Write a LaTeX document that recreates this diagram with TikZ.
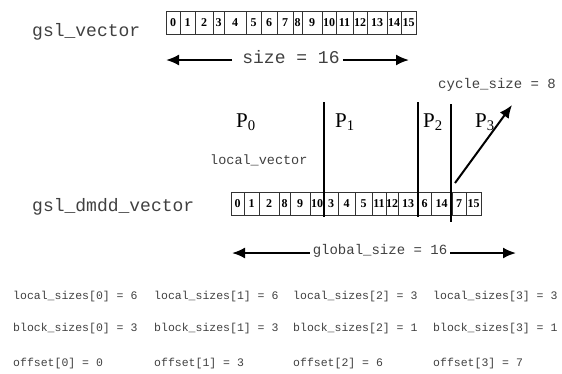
\documentclass[tikz,border=0pt]{standalone}
\usepackage{fontspec}
\setmainfont{Liberation Serif}
\newfontfamily\monofont{Liberation Mono}
\usetikzlibrary{positioning,arrows.meta}

\begin{document}
\begin{tikzpicture}[x=1pt,y=-1pt,
  cell/.style={draw=black!80,line width=0.8pt,inner sep=0pt,minimum height=23pt,
    font=\fontsize{12}{12}\selectfont\bfseries},
  vecname/.style={font=\monofont\fontsize{18}{18}\selectfont,inner sep=0pt,text=black!75},
  sizetext/.style={font=\monofont\fontsize{14}{14}\selectfont,inner sep=0pt,text=black!75},
  infotext/.style={font=\monofont\fontsize{11.5}{12}\selectfont,inner sep=0pt,anchor=west,text=black!75},
  proc/.style={font=\fontsize{21}{21}\selectfont,inner sep=0pt,anchor=base west},
  bar/.style={line width=2.4pt},
  dim/.style={line width=2pt,-{Latex[length=13pt,width=11pt]}}]
  \useasboundingbox (0,0) rectangle (562,373);

  % the plain vector
  \node[vecname,anchor=west] (gslvec) at (32,32) {gsl\_vector};
  \foreach \n/\l/\r [count=\i] in {0/166/180,1/180/195,2/195/213,3/213/224,4/224/246,
      5/246/261,6/261/277,7/277/293,8/293/302,9/302/322,10/322/336,11/336/353,
      12/353/367,13/367/387,14/387/401,15/401/416}
    \node[cell,minimum width={\r-\l}] (t\i) at ({(\l+\r)/2},23) {\n};
  \node[vecname] (size) at (291,57) {size = 16};
  \coordinate (sizeL) at (166,60);
  \coordinate (sizeR) at (409,60);
  \draw[dim] ([xshift=-10pt]size.west |- sizeL) -- (sizeL);
  \draw[dim] ([xshift=3pt]size.east |- sizeR) -- (sizeR);

  % the distributed vector
  \node[sizetext,anchor=west] (cycle) at (438,85) {cycle\_size = 8};
  \node[proc] (p0) at (236,127) {P\textsubscript{0}};
  \node[proc] (p1) at (335,127) {P\textsubscript{1}};
  \node[proc] (p2) at (423,127) {P\textsubscript{2}};
  \node[proc] (p3) at (475,127) {P\textsubscript{3}};
  \node[sizetext,font=\monofont\fontsize{13.5}{14}\selectfont,anchor=west]
    (local) at (210,160) {local\_vector};
  \node[vecname,anchor=west] (dmdd) at (32,207) {gsl\_dmdd\_vector};
  \foreach \n/\l/\r [count=\i] in {0/231/244,1/244/259,2/259/279,8/279/290,9/290/310,
      10/310/324,3/324/338,4/338/355,5/355/372,11/372/386,12/386/398,13/398/418,
      6/418/431,14/431/452,7/452/466,15/466/481}
    \node[cell,minimum width={\r-\l}] (d\i) at ({(\l+\r)/2},203.5) {\n};

  \coordinate (bar1top) at (324,102);
  \coordinate (bar1bot) at (324,217);
  \coordinate (bar2top) at (418,102);
  \coordinate (bar2bot) at (418,217);
  \coordinate (bar3top) at (451,104);
  \coordinate (bar3bot) at (451,222);
  \draw[bar] (bar1top) -- (bar1bot);
  \draw[bar] (bar2top) -- (bar2bot);
  \draw[bar] (bar3top) -- (bar3bot);

  \coordinate (cycA) at (455,183);
  \coordinate (cycB) at (512,105);
  \draw[dim] (cycA) -- (cycB);

  \node[sizetext] (global) at (380,251) {global\_size = 16};
  \coordinate (globL) at (232,253);
  \coordinate (globR) at (516,253);
  \draw[dim] ([xshift=-3pt]global.west |- globL) -- (globL);
  \draw[dim] ([xshift=3pt]global.east |- globR) -- (globR);

  % the sizes on each process
  \node[infotext] (ls0) at (13,297) {local\_sizes[0] = 6};
  \node[infotext] (ls1) at (154,297) {local\_sizes[1] = 6};
  \node[infotext] (ls2) at (293,297) {local\_sizes[2] = 3};
  \node[infotext] (ls3) at (433,297) {local\_sizes[3] = 3};
  \node[infotext] (bs0) at (13,329) {block\_sizes[0] = 3};
  \node[infotext] (bs1) at (154,329) {block\_sizes[1] = 3};
  \node[infotext] (bs2) at (293,329) {block\_sizes[2] = 1};
  \node[infotext] (bs3) at (433,329) {block\_sizes[3] = 1};
  \node[infotext] (of0) at (13,364) {offset[0] = 0};
  \node[infotext] (of1) at (154,364) {offset[1] = 3};
  \node[infotext] (of2) at (293,364) {offset[2] = 6};
  \node[infotext] (of3) at (433,364) {offset[3] = 7};
\end{tikzpicture}
\end{document}
